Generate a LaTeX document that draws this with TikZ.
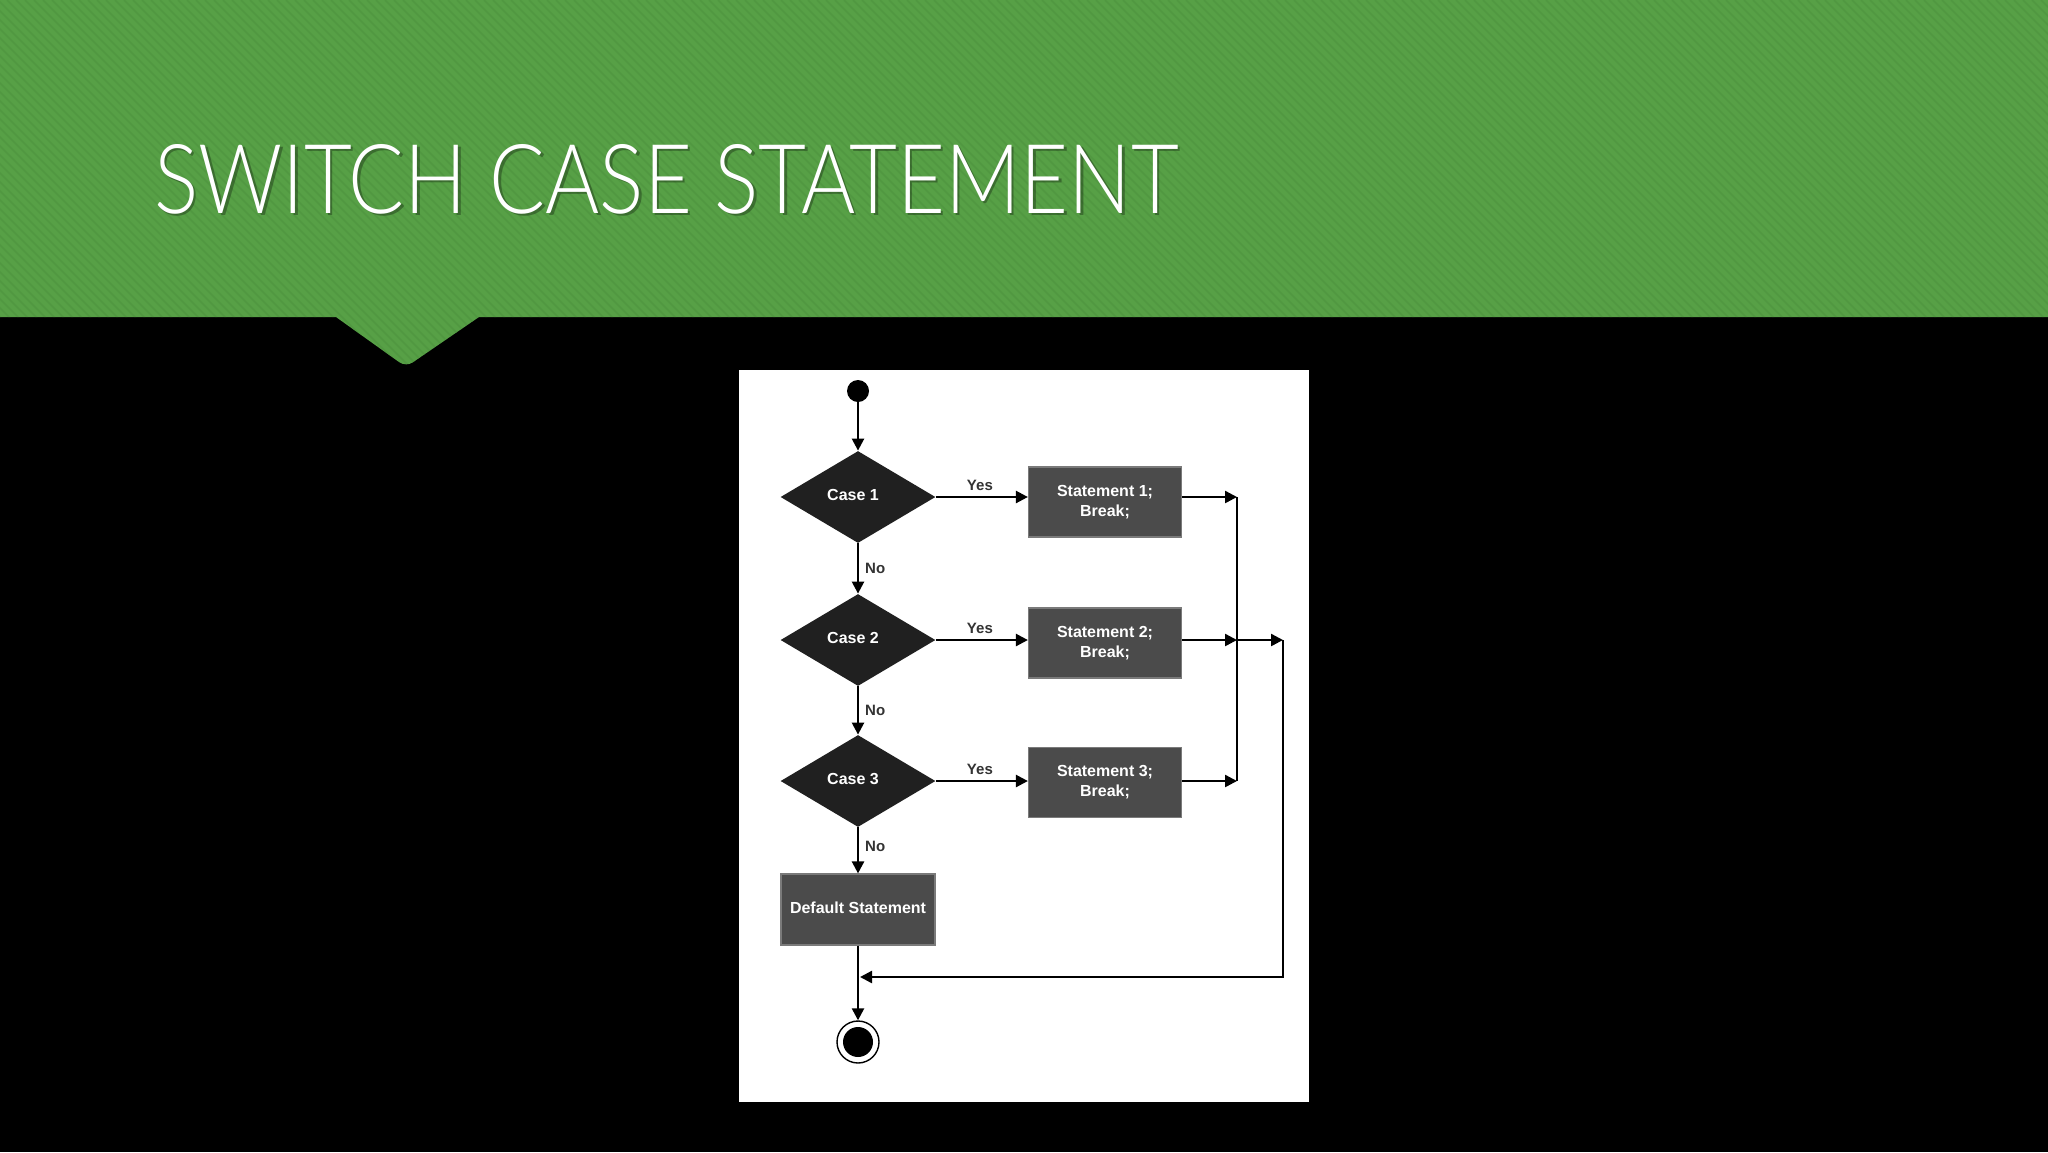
\documentclass[tikz,border=0pt]{standalone}
\usepackage{fontspec}
\usepackage{graphicx}
\setmainfont{Liberation Sans}
\newfontfamily\titlefont{Lato Light}
\usetikzlibrary{shapes.geometric,arrows.meta}
\definecolor{bannergreen}{HTML}{57A046}
\definecolor{stripecol}{HTML}{4A8E3B}
\definecolor{diafill}{HTML}{202020}
\definecolor{boxfill}{HTML}{4B4B4B}
\definecolor{boxline}{HTML}{7A7A7A}
\definecolor{lblcol}{HTML}{333333}
\newcommand{\casetext}[1]{\raisebox{2.5pt}{#1}\hspace*{5pt}}
\tikzset{
  decision/.style={diamond, fill=diafill, inner sep=0pt, minimum width=77.5pt, minimum height=46pt,
    text=white, font=\bfseries\fontsize{8}{10}\selectfont},
  stmt/.style={rectangle, fill=boxfill, draw=boxline, line width=0.6pt, minimum width=76.5pt,
    minimum height=35pt, text=white, align=center, font=\bfseries\fontsize{8}{10}\selectfont, inner sep=0pt},
  flow/.style={line width=1.2pt, -{Triangle[length=6pt,width=6pt]}},
  plainline/.style={line width=1.2pt},
  lbl/.style={text=lblcol, font=\bfseries\fontsize{7.5}{9}\selectfont, inner sep=0pt},
}
\begin{document}
\begin{tikzpicture}[x=0.5pt,y=-0.5pt]
\useasboundingbox (0,0) rectangle (2048,1152);
\fill[black] (0,0) rectangle (2048,1152);
% banner
\begin{scope}
  \clip (0,0) -- (2048,0) -- (2048,317) -- (479,317) [rounded corners=4pt] -- (406,367) [sharp corners] -- (336,317) -- (0,317) -- cycle;
  \fill[bannergreen] (0,0) rectangle (2048,370);
  \foreach \i in {-380,-371,...,2048} {
    \draw[stripecol, line width=0.8pt, opacity=0.45] (\i,0) -- (\i+380,380);
  }
\end{scope}
% title
\node[anchor=base west, inner sep=0pt, text=black, opacity=0.3] (titleshadow) at (156.5,215.5)
  {\resizebox{512pt}{34.5pt}{\titlefont SWITCH CASE STATEMENT}};
\node[anchor=base west, inner sep=0pt, text=white] (title) at (154,213)
  {\resizebox{512pt}{34.5pt}{\titlefont SWITCH CASE STATEMENT}};
% panel
\fill[white] (739,370) rectangle (1309,1102);
% nodes
\node[circle, fill=black, minimum size=11pt, inner sep=0pt] (start) at (858,391) {};
\node[decision] (c1) at (858,497) {\casetext{Case 1}};
\node[decision] (c2) at (858,640) {\casetext{Case 2}};
\node[decision] (c3) at (858,781) {\casetext{Case 3}};
\node[stmt] (s1) at (1105,502) {Statement 1;\\Break;};
\node[stmt] (s2) at (1105,643) {Statement 2;\\Break;};
\node[stmt] (s3) at (1105,782.5) {Statement 3;\\Break;};
\node[stmt, minimum width=77pt, minimum height=35.5pt] (def) at (858,909.5) {\raisebox{2pt}{Default Statement}};
\node[circle, draw=black, line width=0.7pt, fill=white, minimum size=21pt, inner sep=0pt] (endo) at (858,1042) {};
\node[circle, fill=black, minimum size=15pt, inner sep=0pt] (endi) at (858,1042) {};
% coordinates
\coordinate (j1) at (1237,497);
\coordinate (j2) at (1237,640);
\coordinate (j3) at (1237,781);
\coordinate (k2) at (1283,640);
\coordinate (k3) at (1283,977);
\coordinate (m) at (860,977);
% connectors
\draw[flow] (start) -- (c1);
\draw[flow] (c1) -- node[lbl, anchor=west, xshift=3pt] (no1) {No} (c2);
\draw[flow] (c2) -- node[lbl, anchor=west, xshift=3pt] (no2) {No} (c3);
\draw[flow] (c3) -- node[lbl, anchor=west, xshift=3pt, yshift=2pt] (no3) {No} (def);
\draw[flow] (c1.east) -- node[lbl, anchor=south, yshift=2.5pt, xshift=-1pt] (yes1) {Yes} (c1.east -| s1.west);
\draw[flow] (c2.east) -- node[lbl, anchor=south, yshift=2.5pt, xshift=-1pt] (yes2) {Yes} (c2.east -| s2.west);
\draw[flow] (c3.east) -- node[lbl, anchor=south, yshift=2.5pt, xshift=-1pt] (yes3) {Yes} (c3.east -| s3.west);
\draw[flow] (s1.east |- c1) -- (j1);
\draw[flow] (s2.east |- c2) -- (j2);
\draw[flow] (s3.east |- c3) -- (j3);
\draw[plainline] (j1) -- (j3);
\draw[flow] (j2) -- (k2);
\draw[flow] (k2) -- (k3) -- (m);
\draw[flow] (def) -- (endo);
\end{tikzpicture}
\end{document}
